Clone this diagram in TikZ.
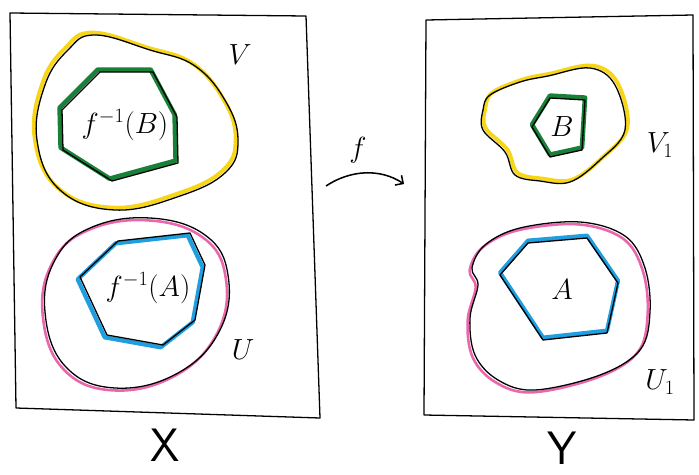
\documentclass[tikz,border=0pt]{standalone}
\usepackage{tikz}
\usetikzlibrary{arrows.meta}
\definecolor{ylw}{rgb}{0.97,0.84,0.10}
\definecolor{grn}{rgb}{0.10,0.50,0.22}
\definecolor{pnk}{rgb}{0.92,0.40,0.68}
\definecolor{blu}{rgb}{0.12,0.62,0.88}

\begin{document}
\begin{tikzpicture}[
  x=0.03cm, y=-0.03cm,
  %% outlines
  frame/.style = {draw=black, line width=1.1pt, line join=round},
  ink/.style   = {draw=black, line width=1.1pt, line join=round},
  vmark/.style = {draw=ylw, line width=3.4pt, line join=round},
  umark/.style = {draw=pnk, line width=2.2pt, line join=round},
  gmark/.style = {draw=grn, line width=4pt, line join=round},
  bmark/.style = {draw=blu, line width=3.6pt, line join=round},
  %% labels
  lbl/.style   = {inner sep=0pt, font=\fontsize{26}{26}\selectfont},
  big/.style   = {inner sep=0pt, font=\fontsize{40}{40}\selectfont\sffamily},
  arr/.style   = {-{Straight Barb[length=5pt]}, line width=1.3pt}
]
\useasboundingbox (0,0) rectangle (699,474);

%% ---- frames X and Y ----
\draw[frame] (10,13) -- (306,16) -- (320,418) -- (16,408) -- cycle;
\draw[frame] (426,20) -- (693,15) -- (694,420) -- (424,415) -- cycle;

%% ---- V in X ----
\draw[vmark, xshift=-2, yshift=2] plot[smooth cycle, tension=0.7] coordinates
  {(95,35) (150,50) (195,66) (226,102) (238,140) (226,172) (180,196)
   (115,210) (60,190) (37,140) (45,85) (68,50)};
\draw[ink] plot[smooth cycle, tension=0.7] coordinates
  {(95,35) (150,50) (195,66) (226,102) (238,140) (226,172) (180,196)
   (115,210) (60,190) (37,140) (45,85) (68,50)};

%% ---- f^{-1}(B) ----
\draw[gmark, xshift=-2, yshift=2] (100,72) -- (153,72) -- (177,117) -- (178,163)
  -- (112,181) -- (63,150) -- (62,110) -- cycle;
\draw[ink] (100,72) -- (153,72) -- (177,117) -- (178,163)
  -- (112,181) -- (63,150) -- (62,110) -- cycle;

%% ---- U in X ----
\draw[umark, xshift=-2, yshift=-2] plot[smooth cycle, tension=0.7] coordinates
  {(90,228) (150,218) (205,235) (228,275) (220,330) (178,373)
   (115,388) (65,366) (45,312) (55,260)};
\draw[ink] plot[smooth cycle, tension=0.7] coordinates
  {(90,228) (150,218) (205,235) (228,275) (220,330) (178,373)
   (115,388) (65,366) (45,312) (55,260)};

%% ---- f^{-1}(A) ----
\draw[bmark, xshift=-2, yshift=-2] (80,277) -- (118,241) -- (190,233) -- (205,265)
  -- (195,320) -- (163,345) -- (107,335) -- cycle;
\draw[ink] (80,277) -- (118,241) -- (190,233) -- (205,265)
  -- (195,320) -- (163,345) -- (107,335) -- cycle;

%% ---- V_1 in Y ----
\draw[vmark, xshift=2, yshift=2] plot[smooth cycle, tension=0.6] coordinates
  {(490,95) (520,82) (548,76) (590,68) (615,85) (625,130) (600,160)
   (570,182) (540,181) (515,175) (505,152) (483,130) (483,110)};
\draw[ink] plot[smooth cycle, tension=0.6] coordinates
  {(490,95) (520,82) (548,76) (590,68) (615,85) (625,130) (600,160)
   (570,182) (540,181) (515,175) (505,152) (483,130) (483,110)};

%% ---- B ----
\draw[gmark, yshift=2] (550,98) -- (585,100) -- (582,150) -- (550,157)
  -- (532,127) -- cycle;
\draw[ink] (550,98) -- (585,100) -- (582,150) -- (550,157) -- (532,127) -- cycle;

%% ---- U_1 in Y ----
\draw[umark, xshift=-2, yshift=-2] plot[smooth cycle, tension=0.6] coordinates
  {(485,245) (520,228) (580,222) (625,236) (645,268) (650,312) (640,350)
   (600,375) (535,390) (498,380) (475,355) (470,318) (478,285) (472,268)};
\draw[ink] plot[smooth cycle, tension=0.6] coordinates
  {(485,245) (520,228) (580,222) (625,236) (645,268) (650,312) (640,350)
   (600,375) (535,390) (498,380) (475,355) (470,318) (478,285) (472,268)};

%% ---- A ----
\draw[bmark, yshift=2] (500,275) -- (528,243) -- (587,238) -- (618,283)
  -- (607,333) -- (543,340) -- cycle;
\draw[ink] (500,275) -- (528,243) -- (587,238) -- (618,283)
  -- (607,333) -- (543,340) -- cycle;

%% ---- labels ----
\node[lbl] (lfb) at (125,125) {$f^{-1}(B)$};
\node[lbl] (lfa) at (148,288) {$f^{-1}(A)$};
\node[lbl] (lv)  at (240,55)  {$V$};
\node[lbl] (lu)  at (243,350) {$U$};
\node[lbl] (lb)  at (562,127) {$B$};
\node[lbl] (la)  at (562,290) {$A$};
\node[lbl] (lv1) at (660,145) {$V_1$};
\node[lbl] (lu1) at (660,382) {$U_1$};
\node[big] (lx)  at (165,445) {X};
\node[big] (ly)  at (562,448) {Y};

%% ---- map f ----
\node[lbl] (lf)  at (358,150) {$f$};
\coordinate (fs) at (326,186);
\coordinate (fe) at (404,184);
\draw[arr] (fs) .. controls (350,170) and (380,168) .. (fe);

\end{tikzpicture}
\end{document}
